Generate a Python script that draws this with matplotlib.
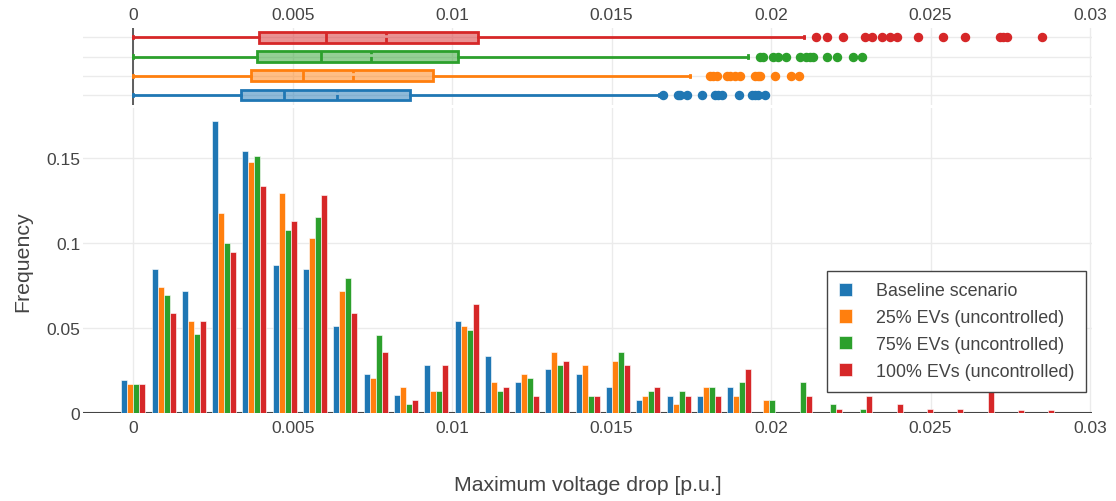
import numpy as np
import matplotlib.pyplot as plt
from matplotlib.patches import Patch

plt.rcParams['font.family'] = ['Liberation Sans', 'DejaVu Sans']

TXT = '#444444'
GRID = '#ebebeb'

# scenarios
labels = ['Baseline scenario', '25% EVs (uncontrolled)',
          '75% EVs (uncontrolled)', '100% EVs (uncontrolled)']
colors = ['#1f77b4', '#ff7f0e', '#2ca02c', '#d62728']

# relative frequency per voltage-drop bin (bin width 0.00095 p.u.)
bin_width = 0.00095
freq_baseline = [0.0194, 0.0847, 0.0720, 0.1720, 0.1539, 0.0873, 0.0847, 0.0512,
                 0.0231, 0.0104, 0.0282, 0.0539, 0.0333, 0.0181, 0.0257, 0.0231,
                 0.0155, 0.0078, 0.0102, 0.0102, 0.0155, 0, 0, 0,
                 0, 0, 0, 0, 0, 0, 0, 0]
freq_ev25 = [0.0171, 0.0743, 0.0539, 0.1179, 0.1477, 0.1296, 0.1028, 0.0718,
             0.0206, 0.0155, 0.0128, 0.0512, 0.0181, 0.0231, 0.0361, 0.0284,
             0.0308, 0.0102, 0.0051, 0.0155, 0.0102, 0.0078, 0, 0,
             0, 0, 0, 0, 0, 0, 0, 0]
freq_ev75 = [0.0171, 0.0692, 0.0463, 0.1000, 0.1514, 0.1077, 0.1155, 0.0794,
             0.0461, 0.0052, 0.0128, 0.0488, 0.0128, 0.0206, 0.0282, 0.0102,
             0.0359, 0.0128, 0.0128, 0.0155, 0.0181, 0.0078, 0.0181, 0.0051,
             0.0026, 0, 0, 0, 0, 0, 0, 0]
freq_ev100 = [0.0171, 0.0590, 0.0539, 0.0949, 0.1333, 0.1131, 0.1282, 0.0590,
              0.0361, 0.0078, 0.0282, 0.0643, 0.0155, 0.0102, 0.0308, 0.0102,
              0.0282, 0.0155, 0.0102, 0.0102, 0.0257, 0, 0.0102, 0.0026,
              0.0102, 0.0051, 0.0026, 0.0026, 0.0256, 0.0018, 0.0020, 0]
freqs = [freq_baseline, freq_ev25, freq_ev75, freq_ev100]

# box plot statistics (p.u.)
q1 = [0.00337, 0.00368, 0.00387, 0.00394]
median = [0.00474, 0.00531, 0.00588, 0.00603]
mean = [0.00640, 0.00690, 0.00744, 0.00792]
q3 = [0.00868, 0.00939, 0.01019, 0.01082]
whisker_low = [0.0, 0.0, 0.0, 0.0]
whisker_high = [0.01649, 0.01746, 0.01927, 0.02103]
outliers = [
    [0.01662, 0.01707, 0.01714, 0.01735, 0.01782, 0.01824, 0.01834, 0.01845,
     0.01900, 0.01939, 0.01950, 0.01958, 0.01981],
    [0.01808, 0.01819, 0.01829, 0.01861, 0.01871, 0.01887, 0.01902, 0.01950,
     0.01960, 0.01965, 0.02012, 0.02061, 0.02088],
    [0.01965, 0.01976, 0.02007, 0.02022, 0.02047, 0.02090, 0.02111, 0.02122,
     0.02132, 0.02174, 0.02207, 0.02258, 0.02284],
    [0.02141, 0.02174, 0.02225, 0.02294, 0.02315, 0.02347, 0.02373, 0.02394,
     0.02462, 0.02540, 0.02608, 0.02718, 0.02728, 0.02741, 0.02850],
]

xticks = [0, 0.005, 0.01, 0.015, 0.02, 0.025, 0.03]
xticklabels = ['0', '0.005', '0.01', '0.015', '0.02', '0.025', '0.03']
yticks = [0, 0.05, 0.1, 0.15]
yticklabels = ['0', '0.05', '0.1', '0.15']

W, H = 1116, 502
fig = plt.figure(figsize=(W / 100, H / 100), dpi=100)

left, right = 83, 1092
xlim = (-0.001577, 0.030063)

ax_box = fig.add_axes([left / W, 1 - 105.6 / H, (right - left) / W, 76.9 / H])
ax = fig.add_axes([left / W, 1 - 414 / H, (right - left) / W, (414 - 109.4) / H])

# --- histogram (grouped bars) ---
centers = np.arange(len(freq_baseline)) * bin_width
bar_w = bin_width * 0.198
ax.set_axisbelow(True)
ax.axhline(0, color=TXT, lw=1.5, zorder=1)
for i, (f, c) in enumerate(zip(freqs, colors)):
    ax.bar(centers + (i - 1.5) * bar_w, f, width=bar_w, color=c,
           edgecolor=(1, 1, 1, 0.6), linewidth=0.7, zorder=2)

ax.set_xlim(*xlim)
ax.set_ylim(0, 0.1792)
ax.set_xticks(xticks)
ax.set_xticklabels(xticklabels)
ax.set_yticks(yticks)
ax.set_yticklabels(yticklabels)
ax.grid(True, color=GRID, lw=1)
ax.tick_params(length=0, labelsize=12.5, colors=TXT)
ax.tick_params(axis='x', pad=5)
ax.tick_params(axis='y', pad=2)
for s in ax.spines.values():
    s.set_visible(False)
ax.set_xlabel('Maximum voltage drop [p.u.]', fontsize=15.3, color=TXT, labelpad=28.5)
ax.set_ylabel('Frequency', fontsize=15.3, color=TXT, labelpad=10)

# --- marginal box plots ---
stats = []
for k in range(4):
    stats.append(dict(q1=q1[k], med=median[k], mean=mean[k], q3=q3[k],
                      whislo=whisker_low[k], whishi=whisker_high[k],
                      fliers=outliers[k]))
ax_box.set_axisbelow(True)
ax_box.axvline(0, color=TXT, lw=1.2, zorder=1)
for k in range(4):
    c = colors[k]
    ax_box.bxp([stats[k]], positions=[k], vert=False, widths=0.55,
               patch_artist=True, showmeans=True, meanline=True,
               capwidths=[0.12],
               boxprops=dict(facecolor=c + '80', edgecolor=c, lw=2),
               medianprops=dict(color=c, lw=2),
               meanprops=dict(color=c, lw=2, ls=(0, (2, 1))),
               whiskerprops=dict(color=c, lw=2),
               capprops=dict(color=c, lw=2),
               flierprops=dict(marker='o', markerfacecolor=c,
                               markeredgecolor=c, markersize=5.8))
ax_box.set_xlim(*xlim)
ax_box.set_ylim(-0.5, 3.5)
ax_box.set_yticks(range(4))
ax_box.set_yticklabels([])
ax_box.xaxis.tick_top()
ax_box.set_xticks(xticks)
ax_box.set_xticklabels(xticklabels)
ax_box.grid(True, color=GRID, lw=1)
ax_box.tick_params(length=0, labelsize=12.5, colors=TXT)
ax_box.tick_params(axis='x', pad=4)
for s in ax_box.spines.values():
    s.set_visible(False)

handles = [Patch(facecolor=c, edgecolor=(1, 1, 1, 0.6), lw=0.7) for c in colors]
leg = fig.legend(handles, labels, loc='upper left',
                 bbox_to_anchor=(827.3 / W, 1 - 271.7 / H), borderaxespad=0,
                 fontsize=12.9, frameon=True, fancybox=False, framealpha=1,
                 edgecolor=TXT, handlelength=0.75, handleheight=0.75,
                 handletextpad=1.3, labelspacing=0.55, borderpad=0.65,
                 labelcolor=TXT)
leg.get_frame().set_linewidth(1)
leg.set_zorder(10)

fig.savefig('out.png', dpi=100)
